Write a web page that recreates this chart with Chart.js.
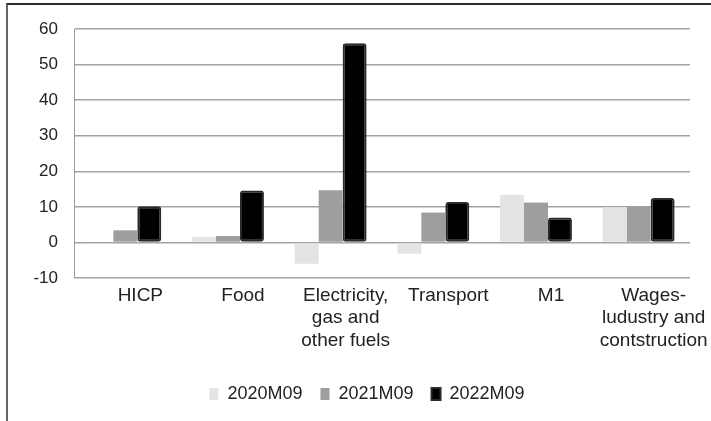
<!DOCTYPE html>
<html>
<head>
<meta charset="utf-8">
<script src="https://cdn.jsdelivr.net/npm/chart.js@4/dist/chart.umd.min.js"></script>
<style>
  body { margin: 0; background: #fff; }
  #wrap { position: relative; width: 711px; height: 421px; }
  #frame { position: absolute; left: 6px; top: 3px; right: 0; bottom: 0;
           border-top: 2px solid #2a2a2a; border-left: 2px solid #666; }
  canvas { position: absolute; left: 0; top: 0; }
</style>
</head>
<body>
<div id="wrap">
  <div id="frame"></div>
  <canvas id="chart" width="711" height="421"></canvas>
</div>
<script>
const categories = [
  "HICP",
  "Food",
  ["Electricity,", "gas and", "other fuels"],
  "Transport",
  "M1",
  ["Wages-", "ludustry and", "contstruction"]
]
const seriesNames = ["2020M09", "2021M09", "2022M09"]
const values2020 = [-0.3, 1.5, -6.0, -3.2, 13.4, 9.9]
const values2021 = [3.4, 1.8, 14.7, 8.4, 11.2, 10.0]
const values2022 = [10.2, 14.6, 56.0, 11.4, 7.0, 12.5]
const yTicks = [-10, 0, 10, 20, 30, 40, 50, 60]

const font = "'Liberation Sans', Arial, sans-serif"

// legend in the original sits a bit right of centre
const shiftLegend = {
  id: "shiftLegend",
  afterLayout(chart) {
    chart.legend.left += 22
    chart.legend.right += 22
  }
}

const ctx = document.getElementById("chart").getContext("2d")
new Chart(ctx, {
  type: "bar",
  data: {
    labels: categories,
    datasets: [
      {
        label: seriesNames[0],
        data: values2020,
        backgroundColor: "#e4e4e4",
        borderWidth: 0
      },
      {
        label: seriesNames[1],
        data: values2021,
        backgroundColor: "#9e9e9e",
        borderWidth: 0
      },
      {
        label: seriesNames[2],
        data: values2022,
        backgroundColor: "#000000",
        borderColor: "#2b2b2b",
        borderWidth: 2,
        borderRadius: 3,
        borderSkipped: false
      }
    ]
  },
  plugins: [shiftLegend],
  options: {
    responsive: false,
    animation: false,
    datasets: {
      bar: { categoryPercentage: 0.7, barPercentage: 1.0 }
    },
    layout: { padding: { top: 29, right: 21, bottom: 8, left: 0 } },
    plugins: {
      tooltip: { enabled: false },
      legend: {
        position: "bottom",
        labels: {
          boxWidth: 9,
          boxHeight: 12,
          padding: 18,
          color: "#222",
          font: { family: font, size: 18 }
        }
      }
    },
    scales: {
      x: {
        grid: { display: false },
        border: { display: false },
        ticks: {
          color: "#222",
          font: { family: font, size: 19 },
          maxRotation: 0,
          autoSkip: false,
          padding: -2,
          labelOffset: 15
        },
        afterFit: (scale) => { scale.height = 89 }
      },
      y: {
        min: -10,
        max: 60,
        afterBuildTicks: (scale) => { scale.ticks = yTicks.map(v => ({ value: v })) },
        grid: { color: "#a3a3a3", lineWidth: 1.5, drawTicks: false },
        border: { display: true, color: "#9a9a9a", width: 1 },
        ticks: {
          color: "#222",
          font: { family: font, size: 17 },
          padding: 16
        },
        afterFit: (scale) => { scale.width = 74 }
      }
    }
  }
})
</script>
</body>
</html>
